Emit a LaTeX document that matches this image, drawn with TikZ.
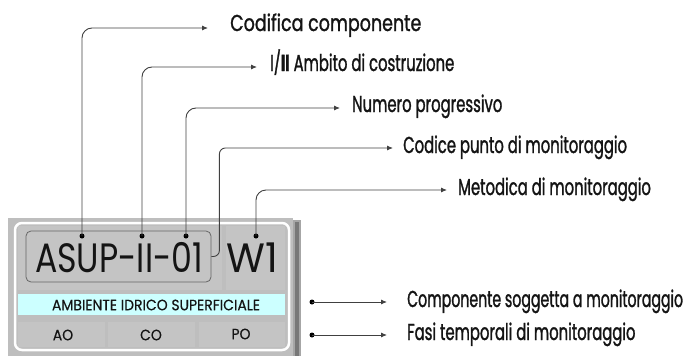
\documentclass[tikz,border=0pt]{standalone}
\usepackage{fontspec}
\setmainfont{Poppins}
\newfontfamily\lblfont{Poppins}[FakeStretch=0.645,FakeBold=1.2]
\newfontfamily\lblnarrowfont{Poppins}[FakeStretch=0.615,FakeBold=1.2]
\newfontfamily\lblwidefont{Poppins}[FakeStretch=0.76,FakeBold=1.2]
\newfontfamily\boxfont{Poppins}[FakeStretch=0.81]
\newfontfamily\wfont{Poppins}[FakeStretch=0.97]
\newfontfamily\smallfont{Poppins}[FakeStretch=0.93,FakeBold=0.4]
\usetikzlibrary{arrows.meta}
\definecolor{panelgrey}{RGB}{190,190,190}
\definecolor{cellgrey}{RGB}{196,196,196}
\definecolor{cyanband}{RGB}{204,255,255}
\definecolor{shadowgrey}{RGB}{120,120,120}
\definecolor{textblack}{RGB}{20,20,20}
\tikzset{
  lbl/.style={inner sep=0pt, anchor=base west, font=\lblfont\fontsize{23}{23}\selectfont, text=textblack},
  conn/.style={draw=black!75, line width=0.9pt, rounded corners=10pt, -{Latex[length=6pt,width=5pt]}},
  dotmark/.style={circle, fill=black, inner sep=0pt, minimum size=5pt},
  bigtxt/.style={font=\boxfont\fontsize{41}{41}\selectfont, text=textblack, inner sep=0pt},
  smalltxt/.style={font=\smallfont\fontsize{15}{15}\selectfont, text=textblack, inner sep=0pt},
  codebox/.style={draw=black!60, fill=cellgrey, rounded corners=5pt, line width=0.8pt, inner sep=0pt}
}
\begin{document}
\begin{tikzpicture}[x=1pt,y=-1pt]
\useasboundingbox (0,0) rectangle (691,356);
% panel
\fill[panelgrey] (8,218) rectangle (293,356);
\fill[black!35] (293,220) rectangle (301,356);
\fill[shadowgrey] (295,222) rectangle (299,356);
\draw[white, line width=2.5pt, rounded corners=7pt] (15,223) rectangle (289,350);
% cells
\fill[cellgrey] (18,226) rectangle (222,290);
\fill[cellgrey] (226,226) rectangle (285,290);
\fill[cyanband] (18,294) rectangle (285,315);
\fill[cellgrey] (18,322) rectangle (105,347);
\fill[cellgrey] (108,322) rectangle (195,347);
\fill[cellgrey] (199,322) rectangle (285,347);
% texts in the panel
\node[codebox, minimum width=185pt, minimum height=51pt] (codebox) at (118.5,256.5) {};
\node[bigtxt] (code) at (119,258) {ASUP-II-01};
\node[bigtxt, font=\wfont\fontsize{41}{41}\selectfont] (w1) at (252,258) {W1};
\node[smalltxt] (amb) at (156,305) {AMBIENTE IDRICO SUPERFICIALE};
\node[smalltxt] (ao) at (63,335) {AO};
\node[smalltxt] (co) at (151,335) {CO};
\node[smalltxt] (po) at (241,334) {PO};
% dots
\node[dotmark] (d1) at (82,236) {};
\node[dotmark] (d2) at (142,236) {};
\node[dotmark] (d3) at (186,236) {};
\node[dotmark] (d5) at (256,236) {};
\node[dotmark] (d6) at (312,302) {};
\node[dotmark] (d7) at (312,335) {};
% labels
\node[lbl, font=\lblwidefont\fontsize{23}{23}\selectfont] (l1) at (230,31) {Codifica componente};
\node[lbl] (l2) at (270,71) {I/\textbf{II} Ambito di costruzione};
\node[lbl] (l3) at (352,112) {Numero progressivo};
\node[lbl] (l4) at (403,153) {Codice punto di monitoraggio};
\node[lbl] (l5) at (458,195) {Metodica di monitoraggio};
\node[lbl, font=\lblnarrowfont\fontsize{23}{23}\selectfont] (l6) at (407,307) {Componente soggetta a monitoraggio};
\node[lbl] (l7) at (407,340) {Fasi temporali di monitoraggio};
% connectors
\draw[conn] (d1.center) |- ([xshift=-22pt,yshift=3pt]l1.base west);
\draw[conn] (d2.center) |- ([xshift=-13pt,yshift=4pt]l2.base west);
\draw[conn] (d3.center) |- ([xshift=-12pt,yshift=4pt]l3.base west);
\draw[conn, rounded corners=6pt] (codebox.east) -- ++(8,0) |- ([xshift=-10pt,yshift=5pt]l4.base west);
\draw[conn] (d5.center) |- ([xshift=-11pt,yshift=5pt]l5.base west);
\draw[conn] (d6.center) -- ([xshift=-20pt,yshift=5pt]l6.base west);
\draw[conn] (d7.center) -- ([xshift=-20pt,yshift=5pt]l7.base west);
\end{tikzpicture}
\end{document}
